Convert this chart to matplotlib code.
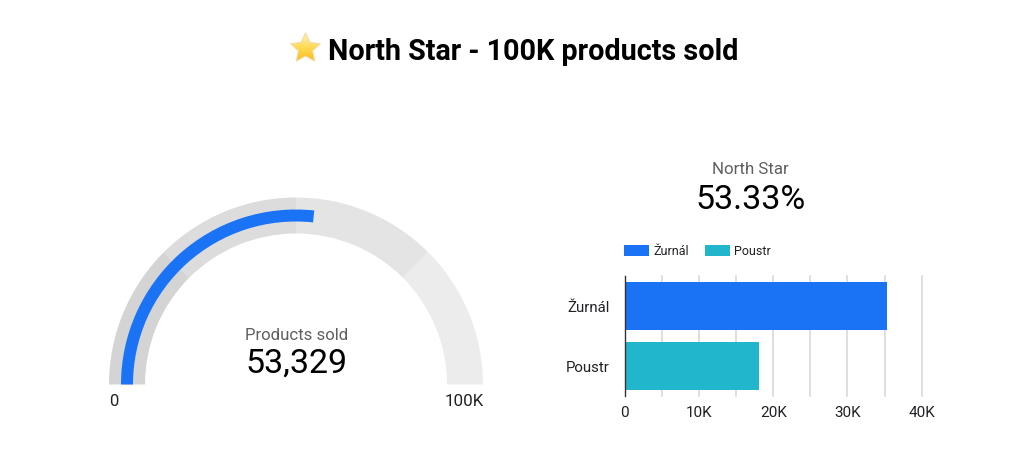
import numpy as np
import matplotlib
matplotlib.use('Agg')
import matplotlib.pyplot as plt
from matplotlib.patches import Wedge, Polygon

plt.rcParams['font.family'] = ['Roboto', 'DejaVu Sans']

W, H = 1024, 475

title = 'North Star - 100K products sold'

# gauge
gauge_value = 53329
gauge_max = 100000
band_edges = [0, 25000, 50000, 75000, 100000]
band_colors = ['#d4d4d4', '#dcdcdc', '#e4e4e4', '#ececec']

# scorecard
score_label = 'North Star'
score_value = '53.33%'

# bars
categories = ['Žurnál', 'Poustr']
sold = [35290, 18040]
bar_colors = ['#1a73f5', '#22b6cc']
x_ticks = [0, 10000, 20000, 30000, 40000]
x_labels = ['0', '10K', '20K', '30K', '40K']
grid_ticks = [5000, 10000, 15000, 20000, 25000, 30000, 35000, 40000]

fig = plt.figure(figsize=(W / 100, H / 100), dpi=100, facecolor='white')

# whole figure in pixels, y flipped by hand
bg = fig.add_axes([0, 0, 1, 1])
bg.set_xlim(0, W)
bg.set_ylim(0, H)
bg.axis('off')


def py(y):
    return H - y


def value_angle(v):
    return 180 - 180 * v / gauge_max


# gauge
cx, cy = 296, py(384.5)
for i in range(len(band_colors)):
    bg.add_patch(Wedge((cx, cy), 187, value_angle(band_edges[i + 1]), value_angle(band_edges[i]),
                       width=36, facecolor=band_colors[i], edgecolor='none'))
bg.add_patch(Wedge((cx, cy), 175, value_angle(gauge_value), 180, width=12,
                   facecolor=bar_colors[0], edgecolor='none'))

bg.text(296.5, py(335), 'Products sold', fontsize=12.1, color='#5f5f5f', ha='center', va='center')
bg.text(296.5, py(364), f'{gauge_value:,}', fontsize=24.5, color='black', ha='center', va='center')
bg.text(109.5, py(401), '0', fontsize=12, color='#202124', ha='left', va='center')
bg.text(484, py(401), '100K', fontsize=12.2, color='#202124', ha='right', va='center')

# title and star
bg.text(533, py(52), title, fontsize=20.7, fontweight='bold', color='black', ha='center', va='center')

sx, sy, sr = 305.5, py(48.5), 15.5
star_a = np.pi / 2 + np.arange(10) * np.pi / 5
star_r = np.where(np.arange(10) % 2 == 0, sr, sr * 0.48)
star_xy = np.c_[sx + star_r * np.cos(star_a), sy + star_r * np.sin(star_a)]
star = Polygon(star_xy, closed=True, facecolor='none', edgecolor='#f2d9a0', lw=0.8, joinstyle='round',
               zorder=3)
bg.add_patch(star)
grad = np.linspace(0, 1, 64)[:, None]
cmap = matplotlib.colors.LinearSegmentedColormap.from_list('star', ['#fff3b8', '#ffd84d', '#f9b312'])
im = bg.imshow(grad, extent=(sx - sr, sx + sr, sy - sr, sy + sr), origin='upper', cmap=cmap,
               aspect='auto', zorder=2)
im.set_clip_path(star)
bg.set_xlim(0, W)
bg.set_ylim(0, H)

# scorecard
bg.text(750.5, py(169.5), score_label, fontsize=12.2, color='#5f5f5f', ha='center', va='center')
bg.text(750.5, py(200), score_value, fontsize=24.5, color='black', ha='center', va='center')

# bar chart, x=0 at 624.7, 40K at 921.7, rows 276-396
ax = fig.add_axes([624.7 / W, py(396) / H, 297 / W, 120 / H], facecolor='none')
ypos = np.arange(len(categories))
bars = ax.barh(ypos, sold, height=0.8, color=bar_colors, zorder=3)
ax.set_xlim(0, 40000)
ax.set_ylim(1.5, -0.5)
ax.set_yticks(ypos)
ax.set_yticklabels(categories, fontsize=10.8, color='#202124')
ax.set_xticks(x_ticks)
ax.set_xticklabels(x_labels, fontsize=11, color='#202124')
ax.tick_params(axis='both', length=0)
ax.tick_params(axis='x', pad=7)
ax.tick_params(axis='y', pad=11)
for g in grid_ticks:
    ax.axvline(g, color='#d9d9d9', lw=1.2, zorder=1, clip_on=False)
for s in ['top', 'right', 'bottom']:
    ax.spines[s].set_visible(False)
ax.spines['left'].set_color('#333333')
ax.spines['left'].set_linewidth(1)
ax.spines['left'].set_zorder(4)

# legend
handles = [plt.Rectangle((0, 0), 1, 1, facecolor=c, edgecolor='none') for c in bar_colors]
bg.legend(handles, categories, loc='center left', bbox_to_anchor=(623.7 / W, py(251.5) / H),
          bbox_transform=fig.transFigure, frameon=False, ncol=2, fontsize=9, borderpad=0, borderaxespad=0,
          handlelength=2.0, handleheight=0.95, handletextpad=0.35, columnspacing=1.3, labelcolor='#202124')

fig.savefig('out.png', dpi=100, facecolor='white')
